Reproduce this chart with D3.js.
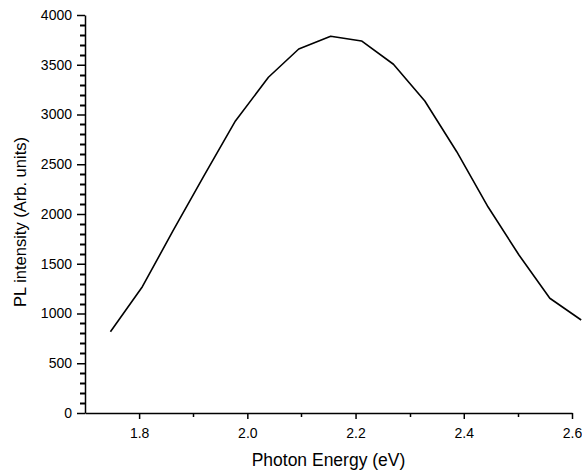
<!DOCTYPE html>
<html>
<head>
<meta charset="utf-8">
<script src="https://cdn.jsdelivr.net/npm/d3@7"></script>
<style>
  body { margin: 0; background: #fff; }
  text { font-family: "Liberation Sans", Arial, sans-serif; fill: #000; }
  .domain, .tick line { stroke: #000; stroke-width: 1.5; }
</style>
</head>
<body>
<div id="chart"></div>
<script>
// data
var energy = [1.747, 1.806, 1.862, 1.920, 1.978, 2.039, 2.095, 2.154, 2.211, 2.270, 2.328, 2.387, 2.445, 2.502, 2.559, 2.617];
var intensity = [817, 1269, 1825, 2385, 2935, 3374, 3658, 3786, 3739, 3505, 3136, 2626, 2070, 1588, 1153, 935];

var xTicks = [1.8, 2.0, 2.2, 2.4, 2.6];
var xMinor = [1.9, 2.1, 2.3, 2.5];
var yTicks = [0, 500, 1000, 1500, 2000, 2500, 3000, 3500, 4000];
var yMinor = [100, 200, 300, 400, 600, 700, 800, 900, 1100, 1200, 1300, 1400,
  1600, 1700, 1800, 1900, 2100, 2200, 2300, 2400, 2600, 2700, 2800, 2900,
  3100, 3200, 3300, 3400, 3600, 3700, 3800, 3900];

var svgWidth = 582;
var svgHeight = 472;
var margin = { top: 15, right: 10, bottom: 59, left: 85 };
var width = 572 - margin.left;
var height = svgHeight - margin.top - margin.bottom;

var svg = d3.select("#chart")
  .append("svg")
  .attr("width", svgWidth)
  .attr("height", svgHeight);

var chartGroup = svg.append("g")
  .attr("transform", `translate(${margin.left}, ${margin.top})`);

var xScale = d3.scaleLinear().domain([1.7, 2.6]).range([0, width]);
var yScale = d3.scaleLinear().domain([0, 4000]).range([height, 0]);

// minor ticks, drawn by hand from the scales
chartGroup.append("g").selectAll("line")
  .data(xMinor)
  .enter()
  .append("line")
  .attr("x1", d => Math.round(xScale(d)) + 0.5)
  .attr("x2", d => Math.round(xScale(d)) + 0.5)
  .attr("y1", height)
  .attr("y2", height + 4)
  .attr("stroke", "#000")
  .attr("stroke-width", 1.5);

chartGroup.append("g").selectAll("line")
  .data(yMinor)
  .enter()
  .append("line")
  .attr("x1", -5)
  .attr("x2", 0)
  .attr("y1", d => Math.round(yScale(d)) + 0.5)
  .attr("y2", d => Math.round(yScale(d)) + 0.5)
  .attr("stroke", "#000")
  .attr("stroke-width", 2);

// major axes
chartGroup.append("g")
  .attr("transform", `translate(0, ${height})`)
  .call(d3.axisBottom(xScale).tickValues(xTicks).tickSize(6).tickSizeOuter(0).tickPadding(9).tickFormat(d3.format(".1f")))
  .call(g => g.selectAll("text").style("font-size", "14px"));

chartGroup.append("g")
  .call(d3.axisLeft(yScale).tickValues(yTicks).tickSize(8).tickSizeOuter(0).tickPadding(5).tickFormat(d3.format("d")))
  .call(g => g.selectAll("text").style("font-size", "14px"));

// the curve
var line = d3.line()
  .x((d, i) => xScale(energy[i]))
  .y(d => yScale(d));

chartGroup.append("path")
  .datum(intensity)
  .attr("fill", "none")
  .attr("stroke", "#000")
  .attr("stroke-width", 1.6)
  .attr("stroke-linejoin", "round")
  .attr("d", line);

// axis titles
svg.append("text")
  .attr("x", margin.left + width / 2)
  .attr("y", 466)
  .attr("text-anchor", "middle")
  .style("font-size", "17.5px")
  .text("Photon Energy (eV)");

svg.append("text")
  .attr("transform", "translate(26, 222) rotate(-90)")
  .attr("text-anchor", "middle")
  .style("font-size", "16.5px")
  .text("PL intensity (Arb. units)");
</script>
</body>
</html>
